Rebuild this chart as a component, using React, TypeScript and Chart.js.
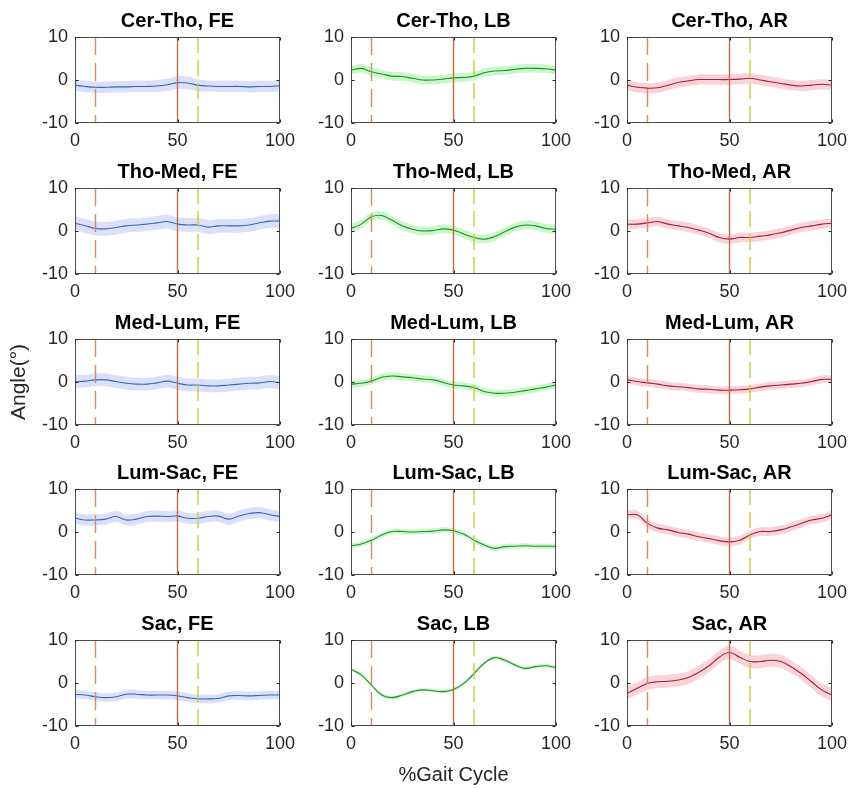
import React, { useEffect, useRef } from "react";
import { Chart, registerables } from "chart.js";

Chart.register(...registerables);

// ---------- data ----------
const GAIT_X = [0, 5, 10, 15, 20, 25, 30, 35, 40, 45, 50, 55, 60, 65, 70, 75, 80, 85, 90, 95, 100];
const Y_TICKS = [-10, 0, 10];
const X_TICKS = [0, 50, 100];
const EVENT_TOE_OFF_OPP = 10;
const EVENT_HEEL_STRIKE_OPP = 50;
const EVENT_TOE_OFF = 60;

const SEGMENTS = ["Cer-Tho", "Tho-Med", "Med-Lum", "Lum-Sac", "Sac"];
const MOTIONS = ["FE", "LB", "AR"];

const CT_FE_MEAN = [-1.2, -1.5, -1.7, -1.7, -1.6, -1.6, -1.5, -1.5, -1.4, -1.1, -0.6, -0.7, -1.2, -1.4, -1.5, -1.5, -1.5, -1.6, -1.5, -1.5, -1.3];
const CT_FE_SD = [1.3, 1.3, 1.3, 1.3, 1.3, 1.3, 1.3, 1.3, 1.4, 1.4, 1.5, 1.5, 1.4, 1.3, 1.3, 1.3, 1.3, 1.3, 1.3, 1.3, 1.3];
const CT_LB_MEAN = [2.3, 2.7, 1.9, 1.4, 0.9, 0.8, 0.4, 0.0, 0.0, 0.2, 0.5, 0.6, 0.9, 1.7, 2.1, 2.2, 2.5, 2.7, 2.7, 2.6, 2.3];
const CT_LB_SD = [1.0, 1.0, 1.0, 1.0, 1.0, 1.0, 1.0, 1.0, 1.0, 1.0, 1.0, 1.0, 1.0, 1.0, 1.0, 1.0, 1.0, 1.0, 1.0, 1.0, 1.0];
const CT_AR_MEAN = [-1.2, -1.7, -1.9, -1.8, -1.2, -0.6, -0.2, 0.1, 0.1, 0.1, 0.1, 0.2, 0.4, 0.0, -0.4, -0.8, -1.2, -1.4, -1.2, -1.0, -1.2];
const CT_AR_SD = [1.2, 1.2, 1.2, 1.2, 1.2, 1.2, 1.2, 1.2, 1.2, 1.2, 1.2, 1.2, 1.2, 1.2, 1.2, 1.2, 1.2, 1.2, 1.2, 1.2, 1.2];

const TM_FE_MEAN = [1.8, 1.2, 0.6, 0.5, 0.8, 1.2, 1.4, 1.6, 1.9, 2.2, 1.6, 1.4, 1.4, 0.9, 1.2, 1.2, 1.2, 1.4, 1.9, 2.3, 2.3];
const TM_FE_SD = [1.6, 1.6, 1.6, 1.6, 1.6, 1.6, 1.6, 1.6, 1.6, 1.6, 1.6, 1.6, 1.6, 1.6, 1.6, 1.6, 1.6, 1.6, 1.6, 1.6, 1.6];
const TM_LB_MEAN = [0.6, 1.6, 3.3, 3.6, 2.5, 1.2, 0.4, 0.0, 0.1, 0.5, 0.2, -0.7, -1.5, -1.9, -1.3, -0.2, 0.9, 1.4, 1.2, 0.6, 0.4];
const TM_LB_SD = [1.0, 1.0, 1.0, 1.0, 1.0, 1.0, 1.0, 1.0, 1.0, 1.0, 1.0, 1.0, 1.0, 1.0, 1.0, 1.0, 1.0, 1.0, 1.0, 1.0, 1.0];
const TM_AR_MEAN = [1.6, 1.6, 1.9, 2.2, 1.6, 1.2, 0.8, 0.2, -0.5, -1.5, -1.9, -1.5, -1.5, -1.2, -0.9, -0.4, 0.2, 0.8, 1.2, 1.6, 1.8];
const TM_AR_SD = [1.1, 1.1, 1.1, 1.1, 1.1, 1.1, 1.1, 1.1, 1.1, 1.1, 1.1, 1.1, 1.1, 1.1, 1.1, 1.1, 1.1, 1.1, 1.1, 1.1, 1.1];

const ML_FE_MEAN = [0.1, 0.2, 0.5, 0.5, 0.1, -0.3, -0.5, -0.5, -0.2, 0.2, -0.3, -0.7, -0.7, -0.9, -0.9, -0.7, -0.5, -0.3, -0.2, 0.1, -0.2];
const ML_FE_SD = [1.5, 1.5, 1.5, 1.5, 1.5, 1.5, 1.5, 1.5, 1.5, 1.5, 1.5, 1.5, 1.5, 1.5, 1.5, 1.5, 1.5, 1.5, 1.5, 1.5, 1.5];
const ML_LB_MEAN = [-0.5, -0.3, 0.2, 1.1, 1.4, 1.2, 1.0, 0.7, 0.5, -0.1, -0.7, -0.9, -1.3, -2.2, -2.6, -2.6, -2.4, -2.0, -1.6, -1.2, -0.7];
const ML_LB_SD = [0.8, 0.8, 0.8, 0.8, 0.8, 0.8, 0.8, 0.8, 0.8, 0.8, 0.8, 0.8, 0.8, 0.8, 0.8, 0.8, 0.8, 0.8, 0.8, 0.8, 0.8];
const ML_AR_MEAN = [0.5, 0.1, -0.2, -0.5, -0.9, -1.1, -1.3, -1.6, -1.7, -1.9, -1.9, -1.8, -1.6, -1.2, -0.9, -0.7, -0.5, -0.3, 0.1, 0.6, 0.6];
const ML_AR_SD = [0.9, 0.9, 0.9, 0.9, 0.9, 0.9, 0.9, 0.9, 0.9, 0.9, 0.9, 0.9, 0.9, 0.9, 0.9, 0.9, 0.9, 0.9, 0.9, 0.9, 0.9];

const LS_FE_MEAN = [3.2, 2.8, 2.8, 3.0, 3.6, 2.8, 3.0, 3.6, 3.7, 3.6, 3.7, 3.2, 3.2, 3.6, 3.7, 3.0, 3.7, 4.3, 4.5, 4.0, 3.6];
const LS_FE_SD = [1.3, 1.3, 1.3, 1.3, 1.3, 1.3, 1.3, 1.3, 1.3, 1.3, 1.3, 1.3, 1.3, 1.3, 1.3, 1.3, 1.3, 1.3, 1.3, 1.3, 1.3];
const LS_LB_MEAN = [-3.2, -2.8, -1.9, -0.7, 0.1, 0.1, 0.0, 0.1, 0.2, 0.5, 0.3, -0.5, -1.9, -3.0, -3.8, -3.4, -3.3, -3.2, -3.3, -3.3, -3.3];
const LS_LB_SD = [0.6, 0.6, 0.6, 0.6, 0.6, 0.6, 0.6, 0.6, 0.6, 0.6, 0.6, 0.6, 0.6, 0.6, 0.6, 0.6, 0.6, 0.6, 0.6, 0.6, 0.6];
const LS_AR_MEAN = [4.0, 4.0, 2.0, 0.9, 0.5, -0.1, -0.5, -1.1, -1.5, -2.0, -2.3, -1.9, -0.7, 0.1, 0.1, 0.5, 1.2, 2.0, 2.8, 3.2, 4.0];
const LS_AR_SD = [1.0, 1.0, 1.0, 1.0, 1.0, 1.0, 1.0, 1.0, 1.0, 1.0, 1.0, 1.0, 1.0, 1.0, 1.0, 1.0, 1.0, 1.0, 1.0, 1.0, 1.0];

const S_FE_MEAN = [-2.6, -2.8, -3.2, -3.4, -3.2, -2.6, -2.6, -2.8, -2.8, -2.8, -3.0, -3.4, -3.7, -3.7, -3.6, -3.0, -2.9, -3.0, -2.9, -2.8, -2.8];
const S_FE_SD = [1.0, 1.0, 1.0, 1.0, 1.0, 1.0, 1.0, 1.0, 1.0, 1.0, 1.0, 1.0, 1.0, 1.0, 1.0, 1.0, 1.0, 1.0, 1.0, 1.0, 1.0];
const S_LB_MEAN = [3.2, 1.9, -0.5, -2.8, -3.4, -2.8, -2.0, -1.6, -1.8, -2.0, -1.5, -0.1, 2.2, 4.6, 5.9, 5.3, 4.2, 3.4, 3.8, 4.0, 3.6];
const S_LB_SD = [0.4, 0.4, 0.4, 0.4, 0.4, 0.4, 0.4, 0.4, 0.4, 0.4, 0.4, 0.4, 0.4, 0.4, 0.4, 0.4, 0.4, 0.4, 0.4, 0.4, 0.4];
const S_AR_MEAN = [-2.4, -1.2, -0.1, 0.3, 0.4, 0.7, 1.3, 2.5, 4.0, 6.0, 7.1, 6.0, 5.0, 5.0, 5.3, 5.0, 3.8, 2.2, 0.3, -1.6, -2.8];
const S_AR_SD = [1.5, 1.5, 1.5, 1.5, 1.5, 1.5, 1.5, 1.5, 1.5, 1.5, 1.5, 1.5, 1.5, 1.5, 1.5, 1.5, 1.5, 1.5, 1.5, 1.5, 1.5];

const MEANS = [
  [CT_FE_MEAN, CT_LB_MEAN, CT_AR_MEAN],
  [TM_FE_MEAN, TM_LB_MEAN, TM_AR_MEAN],
  [ML_FE_MEAN, ML_LB_MEAN, ML_AR_MEAN],
  [LS_FE_MEAN, LS_LB_MEAN, LS_AR_MEAN],
  [S_FE_MEAN, S_LB_MEAN, S_AR_MEAN],
];
const SDS = [
  [CT_FE_SD, CT_LB_SD, CT_AR_SD],
  [TM_FE_SD, TM_LB_SD, TM_AR_SD],
  [ML_FE_SD, ML_LB_SD, ML_AR_SD],
  [LS_FE_SD, LS_LB_SD, LS_AR_SD],
  [S_FE_SD, S_LB_SD, S_AR_SD],
];

// ---------- styles / layout ----------
const STYLES = [
  { line: "#2f6db5", band: "rgba(125,140,235,0.28)" },
  { line: "#23902a", band: "rgba(90,230,90,0.33)" },
  { line: "#9b2335", band: "rgba(240,120,140,0.33)" },
];
const FONT = '"Liberation Sans", Arial, Helvetica, sans-serif';
const PLOT_LEFT = [75, 351, 627];
const PLOT_TOP = [37, 188, 339, 489, 640];
const PLOT_W = 205;
const PLOT_H = 86;
const Y_AXIS_W = 75;
const TITLE_H = 37;
const X_AXIS_H = 27;
const RIGHT_PAD = 25;

const boxPlugin = {
  id: "matlabBox",
  afterDraw(chart: any) {
    const { ctx, chartArea: a, scales } = chart;
    ctx.save();
    ctx.strokeStyle = "#4d4d4d";
    ctx.lineWidth = 1;
    const l = Math.round(a.left) + 0.5;
    const t = Math.round(a.top) + 0.5;
    const r = Math.round(a.right) - 0.5;
    const b = Math.round(a.bottom) - 0.5;
    ctx.strokeRect(l, t, r - l, b - t);
    ctx.strokeStyle = "#262626";
    ctx.beginPath();
    const tl = 3;
    X_TICKS.forEach((v) => {
      const px = Math.round(scales.x.getPixelForValue(v)) + 0.5;
      ctx.moveTo(px, b);
      ctx.lineTo(px, b - tl);
      ctx.moveTo(px, t);
      ctx.lineTo(px, t + tl);
    });
    Y_TICKS.forEach((v) => {
      const py = Math.round(scales.y.getPixelForValue(v)) + 0.5;
      ctx.moveTo(l, py);
      ctx.lineTo(l + tl, py);
      ctx.moveTo(r, py);
      ctx.lineTo(r - tl, py);
    });
    ctx.stroke();
    ctx.restore();
  },
};

function vline(x: number, color: string, dash: number[]) {
  return {
    type: "line" as const,
    data: [
      { x, y: 10 },
      { x, y: -10 },
    ],
    borderColor: color,
    borderWidth: 1.4,
    borderDash: dash,
    pointRadius: 0,
    fill: false,
    tension: 0,
    order: 0,
  };
}

function Panel({ row, col }: { row: number; col: number }) {
  const ref = useRef<HTMLCanvasElement | null>(null);
  const withYTitle = row === 2 && col === 0;
  const withXTitle = row === 4 && col === 1;
  const xAxisH = withXTitle ? X_AXIS_H + 36 : X_AXIS_H;
  const width = Y_AXIS_W + PLOT_W + RIGHT_PAD;
  const height = TITLE_H + PLOT_H + xAxisH;

  useEffect(() => {
    const mean = MEANS[row][col];
    const sd = SDS[row][col];
    const st = STYLES[col];
    const upper = GAIT_X.map((x, i) => ({ x, y: mean[i] + sd[i] }));
    const lower = GAIT_X.map((x, i) => ({ x, y: mean[i] - sd[i] }));
    const meanPts = GAIT_X.map((x, i) => ({ x, y: mean[i] }));

    const chart = new Chart(ref.current as HTMLCanvasElement, {
      type: "line",
      data: {
        datasets: [
          { data: upper, borderWidth: 0, pointRadius: 0, fill: false, tension: 0.4, order: 2, borderColor: "rgba(0,0,0,0)" },
          { data: lower, borderWidth: 0, pointRadius: 0, fill: "-1", backgroundColor: st.band, tension: 0.4, order: 2, borderColor: "rgba(0,0,0,0)" },
          { data: meanPts, borderColor: st.line, borderWidth: 1.1, pointRadius: 0, fill: false, tension: 0.4, order: 1 },
          vline(EVENT_TOE_OFF_OPP, "#d68a62", [18, 8]),
          vline(EVENT_HEEL_STRIKE_OPP, "#c06c45", []),
          vline(EVENT_TOE_OFF, "#cccc30", [16, 7]),
        ] as any,
      },
      options: {
        animation: false,
        responsive: false,
        devicePixelRatio: 1,
        events: [],
        layout: { padding: { left: 0, right: RIGHT_PAD, top: 0, bottom: 0 } },
        plugins: {
          legend: { display: false },
          tooltip: { enabled: false },
          title: {
            display: true,
            fullSize: false,
            text: `${SEGMENTS[row]}, ${MOTIONS[col]}`,
            color: "#000",
            font: { family: FONT, size: 20, weight: "bold", lineHeight: 1.2 },
            padding: { top: 9.5, bottom: TITLE_H - 24 - 9.5 },
          },
        },
        scales: {
          x: {
            type: "linear",
            min: 0,
            max: 100,
            grid: { display: false, drawTicks: false },
            border: { display: false },
            ticks: {
              stepSize: 50,
              padding: 7,
              color: "#262626",
              font: { family: FONT, size: 18 },
              maxRotation: 0,
            },
            title: {
              display: withXTitle,
              text: "%Gait Cycle",
              color: "#262626",
              font: { family: FONT, size: 20 },
              padding: { top: 0, bottom: 2 },
            },
            afterFit: (s: any) => {
              s.height = xAxisH;
              s.paddingLeft = 0;
              s.paddingRight = 0;
            },
          },
          y: {
            min: -10,
            max: 10,
            grid: { display: false, drawTicks: false },
            border: { display: false },
            ticks: {
              stepSize: 10,
              padding: 7,
              color: "#262626",
              font: { family: FONT, size: 18 },
            },
            title: {
              display: withYTitle,
              text: "Angle(°)",
              color: "#262626",
              font: { family: FONT, size: 21 },
              padding: { top: 7, bottom: 0 },
            },
            afterFit: (s: any) => {
              s.width = Y_AXIS_W;
              s.paddingTop = 0;
              s.paddingBottom = 0;
            },
          },
        },
      } as any,
      plugins: [boxPlugin],
    });
    return () => chart.destroy();
  }, [row, col]);

  return (
    <canvas
      ref={ref}
      width={width}
      height={height}
      style={{
        position: "absolute",
        left: PLOT_LEFT[col] - Y_AXIS_W,
        top: PLOT_TOP[row] - TITLE_H,
        width,
        height,
      }}
    />
  );
}

export default function App() {
  const panels: React.ReactNode[] = [];
  SEGMENTS.forEach((_, r) =>
    MOTIONS.forEach((__, c) => panels.push(<Panel key={`${r}-${c}`} row={r} col={c} />))
  );
  return (
    <div
      style={{
        position: "absolute",
        left: 0,
        top: 0,
        width: 850,
        height: 789,
        background: "#ffffff",
        overflow: "hidden",
      }}
    >
      {panels}
    </div>
  );
}
